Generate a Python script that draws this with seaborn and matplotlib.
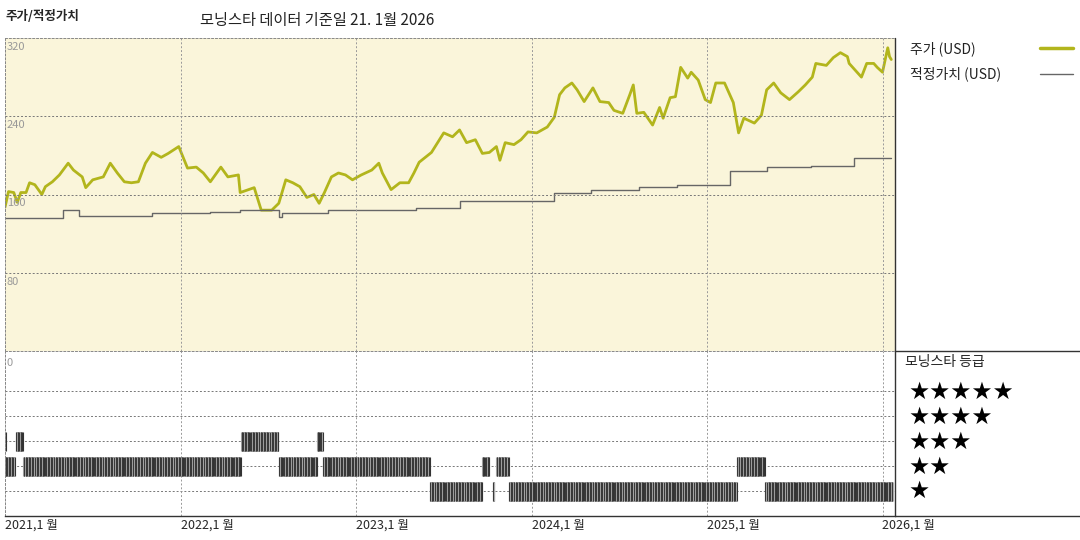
import numpy as np
import pandas as pd
import matplotlib
matplotlib.use("Agg")
import matplotlib.pyplot as plt
import seaborn as sns

sns.set_theme(style="white")
plt.rcParams['font.family'] = ['Noto Sans CJK KR', 'DejaVu Sans']

# price (decimal year, USD)
price_t = [0.00,.02,.05,.07,.09,.12,.14,.17,.21,.23,.27,.31,.36,.39,.44,.46,.50,.56,.60,.64,.68,.72,.76,.80,.84,.89,.93,.99,
           1.04,1.09,1.13,1.17,1.23,1.27,1.33,1.34,1.42,1.46,1.52,1.56,1.60,1.64,1.68,1.72,1.76,1.79,1.82,1.86,1.90,1.94,1.98,
           2.03,2.09,2.13,2.15,2.20,2.25,2.30,2.33,2.36,2.43,2.50,2.55,2.59,2.63,2.68,2.72,2.76,2.80,2.82,2.85,2.90,2.94,2.98,
           3.03,3.09,3.13,3.16,3.19,3.23,3.26,3.30,3.35,3.39,3.44,3.47,3.52,3.56,3.58,3.60,3.64,3.69,3.73,3.75,3.79,3.82,3.85,3.89,3.91,3.95,3.99,
           4.02,4.05,4.10,4.15,4.18,4.21,4.27,4.31,4.34,4.38,4.42,4.47,4.52,4.56,4.60,4.62,4.68,4.72,4.76,4.80,4.81,4.88,4.91,4.95,4.97,5.00,5.03,5.04,5.05]
price_v = [147,163,162,152,162,162,172,170,160,168,173,180,192,185,178,167,175,178,192,182,173,172,173,192,203,198,202,209,
           187,188,182,173,188,178,180,162,167,144,144,151,175,172,168,157,160,151,162,178,182,180,175,
           180,185,192,182,165,172,172,182,193,203,223,219,226,213,216,202,203,209,195,213,211,216,224,
           223,229,239,262,269,274,267,255,269,255,254,246,243,262,272,243,244,231,249,238,259,260,290,279,285,277,257,
           254,274,274,254,223,238,233,241,267,274,264,257,265,272,280,294,292,300,305,301,294,280,294,294,290,285,310,301,298]

fv_t = [0.00,.33,.42,.84,1.17,1.34,1.56,1.58,1.84,2.34,2.59,3.13,3.34,3.61,3.83,4.13,4.34,4.59,4.84,5.05]
fv_v = [136,144,138,141,142,144,137,141,144,146,153,162,165,168,170,184,188,189,197,197]

# Morningstar rating segments
rating_start = [0.00,0.06,1.345,1.78, 0.00,0.105,1.56,1.81,2.72,2.80,4.17, 2.42,2.78,2.87,4.33]
rating_end   = [0.006,0.105,1.56,1.81, 0.06,1.345,1.78,2.42,2.76,2.87,4.33, 2.72,2.79,4.17,5.06]
rating_star  = [3,3,3,3, 2,2,2,2,2,2,2, 1,1,1,1]

years = [2021,2022,2023,2024,2025,2026]
price_ticks = [80,160,240,320]

fig = plt.figure(figsize=(10.8,5.4), dpi=100)
W, H = 1080, 540
def box(x0, y0, x1, y1):
    return [x0/W, 1-y1/H, (x1-x0)/W, (y1-y0)/H]

ax = fig.add_axes(box(5,38,895,351))
ax.set_facecolor('#FAF5DA')
df_p = pd.DataFrame({'t':np.array(price_t)+2021,'v':price_v})
df_f = pd.DataFrame({'t':np.array(fv_t)+2021,'v':fv_v})
sns.lineplot(data=df_p, x='t', y='v', ax=ax, color='#B2B51C', lw=2.0)
sns.lineplot(data=df_f, x='t', y='v', ax=ax, color='#666666', lw=1.0, drawstyle='steps-post')
ax.set_xlim(2021, 2021+890/175.5)
ax.set_ylim(0,320)
for y in price_ticks[:-1]:
    ax.axhline(y, color='#777', ls=(0,(2,2)), lw=0.7)
for yr in years:
    ax.axvline(yr, color='#999', ls=(0,(2,2)), lw=0.7)
for y in price_ticks:
    ax.text(2021.01, y-4, str(y), color='#999', fontsize=8, va='top', ha='left')
ax.set_xticks([]); ax.set_yticks([]); ax.set_xlabel(''); ax.set_ylabel('')
for s in ax.spines.values():
    s.set_color('#888'); s.set_linestyle((0,(2,2))); s.set_linewidth(0.7)

ar = fig.add_axes(box(5,351,895,516))
ar.set_xlim(2021, 2021+890/175.5)
ar.set_ylim(0, 165/25)
for r in range(1,6):
    ar.axhline(r, color='#777', ls=(0,(2,2)), lw=0.7)
for yr in years:
    ar.axvline(yr, color='#999', ls=(0,(2,2)), lw=0.7)
ar.text(2021.01, 165/25-0.3, '0', color='#999', fontsize=8, va='top')
for s0, s1, st in zip(rating_start, rating_end, rating_star):
    ts = np.arange(s0, s1, 0.003) + 2021
    cols = ['#333' if i % 3 else '#aaa' for i in range(len(ts))]
    ar.vlines(ts, st-0.38, st+0.38, colors=cols, lw=0.8)
ar.set_xticks(years)
ar.set_xticklabels([f'{y},1 월' for y in years], fontsize=9, ha='left')
ar.tick_params(axis='x', length=0, pad=2)
ar.set_yticks([])
for k in ['top','left','right']:
    ar.spines[k].set_color('#888'); ar.spines[k].set_linestyle((0,(2,2))); ar.spines[k].set_linewidth(0.7)
ar.spines['bottom'].set_color('#333'); ar.spines['bottom'].set_linewidth(1)

fig.add_artist(plt.Line2D([895/W,895/W],[1-38/H,1-516/H], color='#333', lw=1))
fig.add_artist(plt.Line2D([895/W,1],[1-351/H,1-351/H], color='#333', lw=1))
fig.add_artist(plt.Line2D([895/W,1],[1-516/H,1-516/H], color='#333', lw=1))

fig.text(5/W, 1-17/H, '주가/적정가치', fontsize=9, fontweight='bold', va='center')
fig.text(200/W, 1-20/H, '모닝스타 데이터 기준일 21. 1월 2026', fontsize=11, va='center', color='#222')
fig.text(910/W, 1-49/H, '주가 (USD)', fontsize=10, va='center', color='#222')
fig.text(910/W, 1-74/H, '적정가치 (USD)', fontsize=10, va='center', color='#222')
fig.add_artist(plt.Line2D([1040/W,1073/W],[1-48/H,1-48/H], color='#B2B51C', lw=2.5))
fig.add_artist(plt.Line2D([1040/W,1073/W],[1-74/H,1-74/H], color='#666', lw=1))
fig.text(905/W, 1-362/H, '모닝스타 등급', fontsize=10, va='center', color='#222')
for i, yy in enumerate([392,417,442,467,491]):
    fig.text(908/W, 1-yy/H, '★'*(5-i), fontsize=17, va='center', color='black', family=['DejaVu Sans'])

fig.savefig('out.png', dpi=100)
